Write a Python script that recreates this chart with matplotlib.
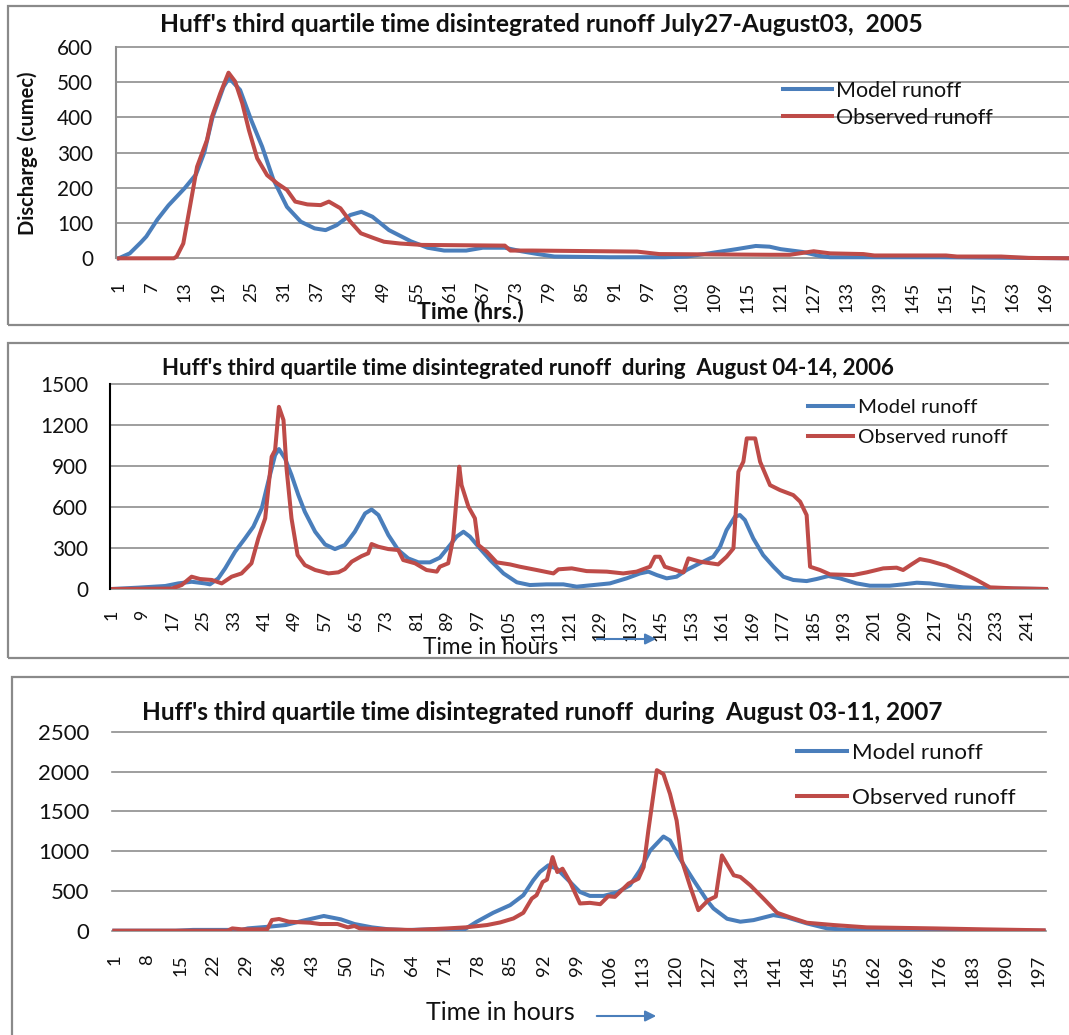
import matplotlib
matplotlib.use('Agg')
import matplotlib.pyplot as plt
from matplotlib.patches import Rectangle, FancyArrowPatch

plt.rcParams['font.family'] = ['Lato', 'DejaVu Sans']

W, H = 1069, 1035
BLUE = '#4A7EBB'
RED = '#BE4B48'
GRID = '#8E8E8E'
BOX = '#8A8A8A'
TXT = '#111111'

# ---------------- data (hour, discharge) ----------------
# 2005 panel
p1_model_h = [1, 3, 5, 6, 8, 10, 13, 15, 16.5, 18, 20, 21, 23, 25, 27, 29, 31.5, 34, 36.5, 38.5,
              40.5, 43, 45, 47, 50, 54, 57, 60, 64, 67, 71, 74, 77, 80, 90, 100, 104, 108, 113,
              116.5, 119, 121, 125, 128, 130, 150, 174]
p1_model_v = [0, 14, 45, 62, 110, 150, 200, 238, 300, 400, 487, 512, 478, 393, 317, 225, 146, 104, 85, 80,
              94, 123, 132, 118, 80, 48, 30, 22, 22, 30, 30, 20, 12, 5, 3, 3, 5, 14, 26,
              35, 33, 26, 18, 7, 3, 3, 0]
p1_obs_h = [1, 11, 11.5, 12.7, 13.9, 15.2, 17, 17.9, 19.4, 20.9, 22.1, 23.4, 24.6, 26.1, 27.9, 29.7,
            31.5, 33, 35.2, 37.6, 39.1, 41.2, 43, 44.9, 47.3, 49.1, 52, 56, 71, 72, 76, 95, 99, 119,
            122.7, 127, 130, 136, 138, 151, 153, 161, 166, 174]
p1_obs_v = [0, 0, 5, 42, 146, 260, 336, 402, 468, 527, 502, 440, 364, 284, 236, 213,
            194, 161, 153, 151, 161, 142, 104, 71, 57, 47, 42, 38, 36, 22, 22, 19, 12, 10,
            10, 20, 14, 12, 8, 8, 5, 5, 1, 0]

# 2006 panel
p2_model_h = [1, 8, 15, 18.4, 21.9, 25.4, 26.7, 28.9, 30.7, 33.3, 35.9, 38.1, 40.3, 42, 43.8, 44.8, 46.4,
              48.1, 49.9, 51.6, 54.3, 56.9, 59.5, 62.1, 64.7, 67.4, 69.1, 70.9, 73.5, 76.1, 78.7, 81.4,
              84.4, 87, 89.7, 91.4, 93.2, 94.9, 97.5, 100.2, 103.7, 107.2, 110.6, 115, 119.4, 122.9,
              127.3, 131.6, 136, 139.5, 141.7, 143.9, 146.5, 149.1, 151.7, 155.2, 158.7, 160.5, 162.2,
              164.4, 165.7, 167, 169.2, 171.8, 174.5, 177.1, 179.7, 183.2, 185.8, 188.9, 191.9, 196.3,
              199.8, 205, 208.6, 212.1, 215.5, 219.9, 224.3, 231.3, 246]
p2_model_v = [0, 10, 22, 41, 53, 41, 34, 78, 151, 273, 370, 456, 590, 785, 980, 1024, 955,
              834, 687, 565, 419, 326, 292, 322, 419, 553, 582, 541, 395, 285, 224, 195,
              195, 229, 322, 383, 419, 383, 297, 212, 114, 49, 29, 34, 34, 17,
              29, 41, 78, 114, 127, 102, 78, 90, 139, 188, 236, 309, 431,
              529, 541, 505, 370, 248, 163, 90, 66, 58, 73, 95, 78, 41,
              24, 24, 34, 46, 41, 24, 12, 5, 0]
p2_obs_h = [1, 16.7, 19.3, 21.9, 24.1, 27.2, 29.8, 32.4, 35, 37.6, 39.4, 41.2, 42.9, 43.8, 44.8, 46,
            46.8, 48.1, 49.7, 51.6, 54.3, 57.8, 60.4, 62.1, 63.9, 66.5, 68.2, 69.1, 70.9, 73.5, 76.1,
            77.4, 80.5, 83.5, 86.2, 87, 89.2, 90.5, 92.1, 92.7, 94.5, 96.2, 97.1, 99.3, 101.9, 105.4,
            108, 112.4, 116.8, 118.1, 121.6, 125.5, 130.8, 135.1, 138.6, 142.1, 143.4, 144.7, 146,
            148.2, 150.9, 152.2, 155.2, 160, 162.2, 164, 165.3, 166.6, 167.5, 169.7, 171, 173.6,
            176.2, 179.7, 181.5, 183.2, 184.1, 186.7, 189.3, 195.4, 199, 203.3, 206.8, 208.5, 210.7,
            212.9, 215.5, 219.9, 224.3, 227.8, 231.3, 237.4, 246]
p2_obs_v = [0, 3, 29, 90, 73, 66, 41, 90, 114, 188, 370, 517, 968, 1016, 1333, 1236,
            882, 517, 248, 175, 139, 114, 122, 146, 200, 241, 261, 329, 309, 292, 285,
            212, 188, 139, 127, 163, 188, 370, 895, 760, 602, 517, 322, 273, 195, 180,
            163, 139, 114, 144, 151, 131, 127, 114, 127, 163, 236, 236, 163,
            144, 122, 224, 200, 180, 236, 297, 858, 931, 1102, 1102, 931, 760,
            724, 687, 639, 541, 163, 139, 107, 102, 122, 151, 156, 139, 180,
            219, 205, 170, 114, 66, 12, 5, 0]

# 2007 panel
p3_model_h = [1, 14, 17.7, 28, 29.3, 33.7, 37.3, 41, 45.4, 49, 51.9, 55.6, 59.2, 62.8, 67.9, 75, 77.8,
              81.3, 84.9, 87.7, 89.8, 91.2, 93, 94.8, 96.9, 99.7, 101.8, 104.7, 107.5, 110.3, 112.4,
              114.6, 117.4, 118.8, 120.9, 123.8, 125.2, 126.6, 128, 129.4, 130.9, 133.7, 136.5, 140.7,
              143.6, 147.8, 152.1, 157, 170, 198]
p3_model_v = [0, 0, 10, 10, 29, 50, 71, 126, 185, 143, 84, 42, 17, 8, 17, 8, 112,
              225, 321, 446, 633, 737, 821, 779, 654, 487, 437, 437, 479, 571, 758,
              1008, 1183, 1133, 904, 633, 508, 383, 280, 217, 150, 113, 133, 196,
              167, 92, 29, 8, 3, 0]
p3_obs_h = [1, 25, 26, 28, 33.4, 34.4, 35.9, 38, 42.5, 44.6, 48.3, 50.5, 51.9, 53, 57, 64.3, 71.7, 75.5,
            80, 82.8, 85.6, 87.7, 89.5, 90.5, 91.8, 92.7, 93.9, 94.9, 96, 97.6, 99.7, 101.8, 104,
            105.7, 107.1, 110, 112.1, 113.2, 114.2, 116, 117.4, 118.8, 120.2, 121.3, 123.1, 124.8,
            126.9, 128.5, 129.8, 132.3, 133.7, 135.8, 138.6, 141.5, 144.3, 147.8, 153.5, 160.5,
            174.7, 185.3, 198]
p3_obs_v = [0, 0, 29, 17, 17, 134, 147, 113, 100, 84, 84, 42, 59, 29, 21, 8, 29, 42,
            71, 104, 154, 225, 404, 446, 612, 642, 925, 737, 779, 612, 342, 350, 333,
            433, 425, 592, 654, 800, 1258, 2017, 1967, 1717, 1383, 883, 550, 258,
            383, 430, 946, 696, 675, 571, 404, 225, 167, 100, 71, 42,
            29, 17, 5]

p1_xticks = list(range(1, 170, 6))
p2_xticks = list(range(1, 242, 8))
p3_xticks = list(range(1, 198, 7))
p1_yticks = [0, 100, 200, 300, 400, 500, 600]
p2_yticks = [0, 300, 600, 900, 1200, 1500]
p3_yticks = [0, 500, 1000, 1500, 2000, 2500]

titles = ["Huff's third quartile time disintegrated runoff July27-August03,  2005",
          "Huff's third quartile time disintegrated runoff  during  August 04-14, 2006",
          "Huff's third quartile time disintegrated runoff  during  August 03-11, 2007"]
series_names = ['Model runoff', 'Observed runoff']

# ---------------- figure ----------------
fig = plt.figure(figsize=(W / 100, H / 100), dpi=100)
fig.patch.set_facecolor('white')
R = fig.canvas.get_renderer()


def fx(x):
    return x / W


def fy(y):
    return 1 - y / H


def px2pt(p):
    return p * 72 / 100


def fit_size(text, target, weight='normal', rotation=0, base=12):
    t = fig.text(0, 0, text, fontsize=base, weight=weight, rotation=rotation)
    bb = t.get_window_extent(R)
    w = bb.height if rotation == 90 else bb.width
    t.remove()
    return base * target / w


# panel boxes
for (x0, y0, x1, y1) in [(7.5, 6, 1080, 325), (7.5, 343, 1080, 658), (11.5, 677, 1080, 1050)]:
    fig.add_artist(Rectangle((fx(x0), fy(y1)), fx(x1) - fx(x0), fy(y0) - fy(y1),
                             transform=fig.transFigure, fill=False, edgecolor=BOX, lw=1.6))


def make_axes(l, r, t, b):
    return fig.add_axes([fx(l), fy(b), fx(r) - fx(l), fy(t) - fy(b)])


def style(ax, xlim, xticks, yticks, ytick_fs, xtick_fs, ypad, xpad, left_spine=None):
    ax.set_xlim(*xlim)
    ax.set_ylim(yticks[0], yticks[-1])
    ax.set_yticks(yticks)
    ax.set_yticklabels([str(v) for v in yticks], fontsize=ytick_fs, color=TXT)
    ax.set_xticks(xticks)
    ax.set_xticklabels([str(v) for v in xticks], fontsize=xtick_fs, rotation=90, color=TXT)
    ax.tick_params(axis='y', length=0, pad=px2pt(ypad))
    ax.tick_params(axis='x', length=0, pad=px2pt(xpad))
    for s in ax.spines.values():
        s.set_visible(False)
    ax.yaxis.grid(True, color=GRID, lw=1.2)
    for gl in ax.get_ygridlines():
        gl.set_clip_on(False)
    ax.set_axisbelow(True)
    if left_spine:
        ax.spines['left'].set_visible(True)
        ax.spines['left'].set_color(left_spine)
        ax.spines['left'].set_linewidth(1.5)
    ax.set_facecolor('none')


def add_legend(ax, lines, xl0, xl1, xt, y1, y2, text_w):
    fs = fit_size('Observed runoff', text_w)
    t = fig.text(0, 0, 'Observed runoff', fontsize=fs)
    th = t.get_window_extent(R).height
    t.remove()
    fpx = fs * 100 / 72
    ax.legend(lines, series_names, loc='upper left',
              bbox_to_anchor=(fx(xl0), fy(y1 - th / 2)), bbox_transform=fig.transFigure,
              frameon=False, fontsize=fs, borderpad=0, borderaxespad=0,
              handlelength=(xl1 - xl0) / fpx, handletextpad=(xt - xl1) / fpx,
              labelspacing=((y2 - y1) - th) / fpx, labelcolor=TXT)


LW = 2.9
ytf = fit_size('600', 36)
xtf = fit_size('169', 31)

# ---- panel 1 ----
ax1 = make_axes(116, 1069, 47, 258.3)
style(ax1, (0.5, 173.3), p1_xticks, p1_yticks, ytf, xtf, 23, 23, left_spine=GRID)
l1, = ax1.plot(p1_model_h, p1_model_v, color=BLUE, lw=LW, solid_joinstyle='round', clip_on=False)
l2, = ax1.plot(p1_obs_h, p1_obs_v, color=RED, lw=LW, solid_joinstyle='round', clip_on=False)
add_legend(ax1, [l1, l2], 783, 832, 836, 91, 118, 157)
fig.text(fx(541), fy(25), titles[0], ha='center', va='center', weight='bold', color=TXT,
         fontsize=fit_size(titles[0], 760, 'bold'))
fig.text(fx(27.5), fy(153.5), 'Discharge (cumec)', ha='center', va='center', weight='bold',
         rotation=90, color=TXT, fontsize=fit_size('Discharge (cumec)', 163, 'bold', 90))
fig.text(fx(470), fy(311), 'Time (hrs.)', ha='center', va='center', weight='bold', color=TXT,
         fontsize=fit_size('Time (hrs.)', 106, 'bold'))

# ---- panel 2 ----
ax2 = make_axes(110, 1048, 384, 589)
style(ax2, (0.5, 246.5), p2_xticks, p2_yticks, fit_size('1500', 48), fit_size('105', 31), 22, 21,
      left_spine='black')
m2, = ax2.plot(p2_model_h, p2_model_v, color=BLUE, lw=LW, solid_joinstyle='round')
o2, = ax2.plot(p2_obs_h, p2_obs_v, color=RED, lw=LW, solid_joinstyle='round')
add_legend(ax2, [m2, o2], 808, 853, 858, 407, 437, 149)
fig.text(fx(528), fy(368), titles[1], ha='center', va='center', weight='bold', color=TXT,
         fontsize=fit_size(titles[1], 727, 'bold'))
fig.text(fx(491), fy(648), 'Time in hours', ha='center', va='center', color=TXT,
         fontsize=fit_size('Time in hours', 135))
fig.add_artist(FancyArrowPatch((fx(594), fy(639)), (fx(659), fy(639)), transform=fig.transFigure,
                               arrowstyle='-|>', mutation_scale=16, color=BLUE, lw=1.5))

# ---- panel 3 ----
ax3 = make_axes(112, 1046, 731.7, 930.7)
style(ax3, (0.5, 198.5), p3_xticks, p3_yticks, fit_size('2500', 51), fit_size('197', 32), 23, 24)
m3, = ax3.plot(p3_model_h, p3_model_v, color=BLUE, lw=LW, solid_joinstyle='round')
o3, = ax3.plot(p3_obs_h, p3_obs_v, color=RED, lw=LW, solid_joinstyle='round')
add_legend(ax3, [m3, o3], 797, 847, 852, 753, 798, 163)
fig.text(fx(542), fy(712), titles[2], ha='center', va='center', weight='bold', color=TXT,
         fontsize=fit_size(titles[2], 796, 'bold'))
fig.text(fx(500.5), fy(1013), 'Time in hours', ha='center', va='center', color=TXT,
         fontsize=fit_size('Time in hours', 149))
fig.add_artist(FancyArrowPatch((fx(594), fy(1016)), (fx(659), fy(1016)), transform=fig.transFigure,
                               arrowstyle='-|>', mutation_scale=16, color=BLUE, lw=1.5))

fig.savefig('out.png', dpi=100, facecolor='white')
